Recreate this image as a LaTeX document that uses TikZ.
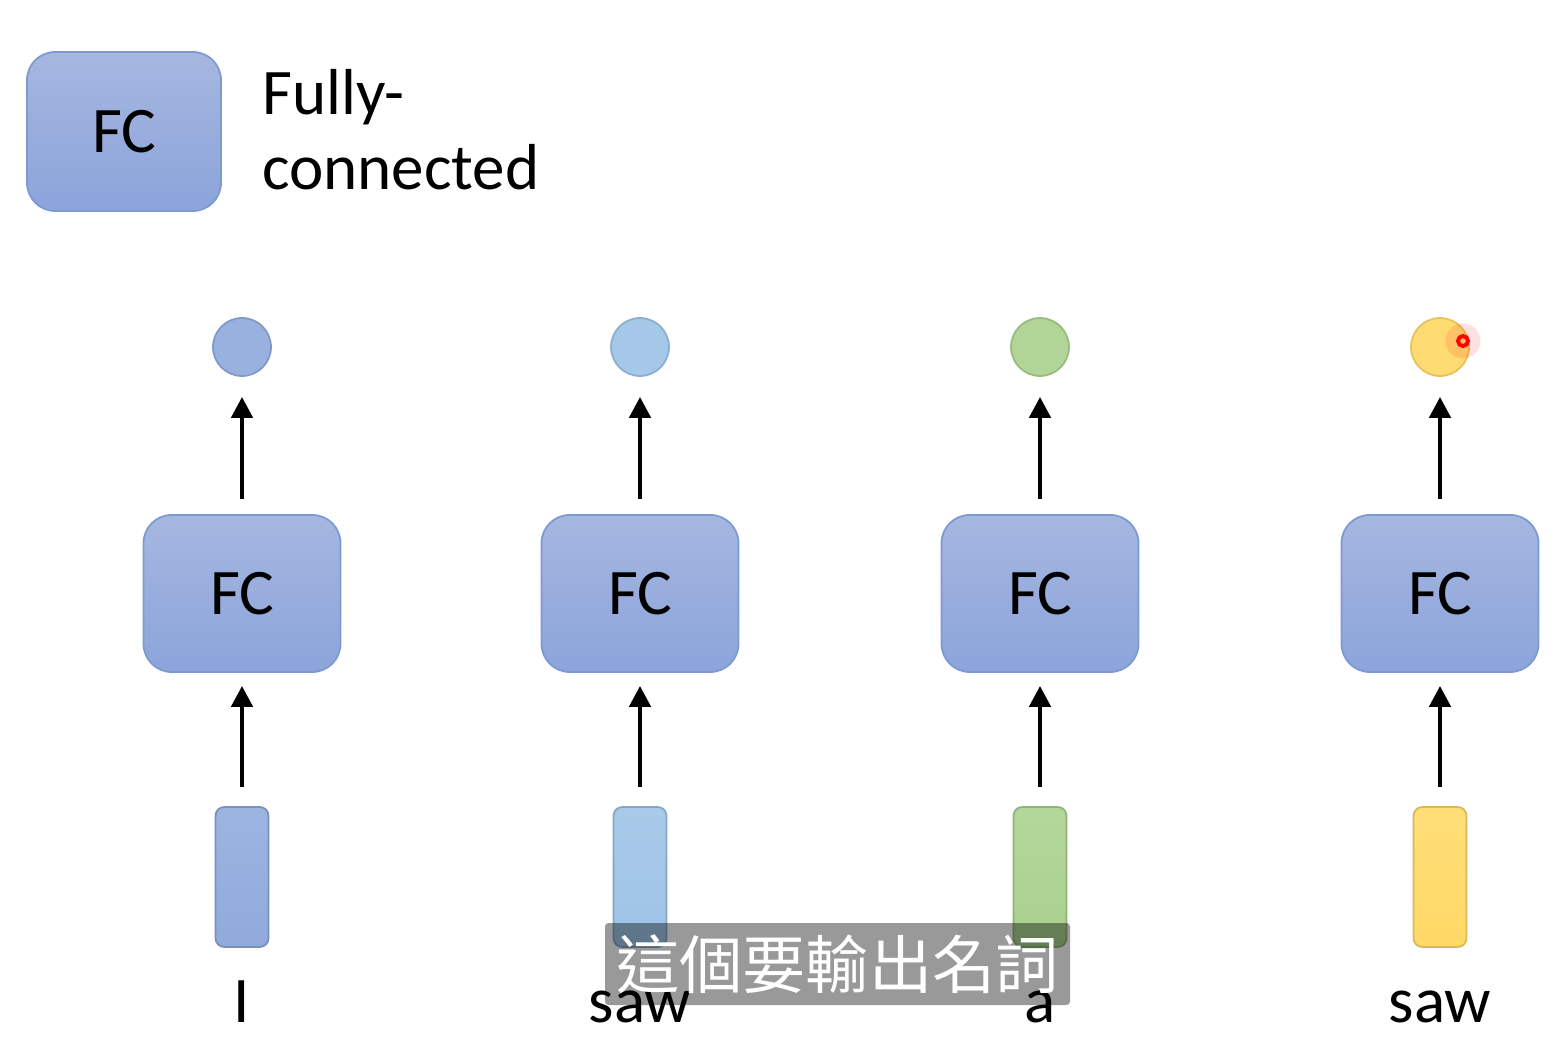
\documentclass[tikz,border=0pt]{standalone}
\usepackage{fontspec}
\setmainfont{Carlito}
\newfontfamily\cjk{Noto Sans CJK TC}
\usetikzlibrary{arrows.meta}
\definecolor{fctop}{HTML}{A6B7E0}
\definecolor{fcbot}{HTML}{8BA4DA}
\definecolor{fcline}{HTML}{7D99D2}
\definecolor{vblue}{HTML}{8FAADC}
\definecolor{vsky}{HTML}{9DC3E6}
\definecolor{vgreen}{HTML}{A9D18E}
\definecolor{vgold}{HTML}{FFD966}

\begin{document}
\begin{tikzpicture}[
    font=\fontsize{37}{43}\selectfont,
    fcbox/.style={
        rectangle, rounded corners=16pt, draw=fcline, line width=1pt,
        top color=fctop, bottom color=fcbot,
        minimum width=3.94cm, minimum height=3.14cm, inner sep=0pt
    },
    vec/.style={
        rectangle, rounded corners=5pt, line width=1pt,
        minimum width=1.06cm, minimum height=2.8cm, inner sep=0pt
    },
    outdot/.style={circle, line width=1pt, minimum size=1.16cm, inner sep=0pt},
    flow/.style={draw=black, line width=2.6pt, -{Triangle[length=12pt,width=12pt]}}
]
\useasboundingbox (0,0) rectangle (31.32,21.04);

% legend
\node[fcbox, minimum width=3.88cm, minimum height=3.18cm] (key) at (2.48,18.41) {FC};
\node[anchor=base west, align=left, inner sep=0pt] (keytext) at (5.24,17.24)
    {Fully-\\connected};

\foreach \i/\x/\col/\word in {
    1/4.84/vblue/I,
    2/12.8/vsky/saw,
    3/20.8/vgreen/a,
    4/28.8/vgold/saw
} {
    \node[vec, draw=\col!85!black, top color=\col!88!white, bottom color=\col] (bar\i) at (\x,3.5) {};
    \node[fcbox] (fc\i) at (\x,9.17) {FC};
    \node[outdot, draw=\col!90!black, fill=\col!92!white] (out\i) at (\x,14.1) {};
    \node[anchor=base, inner sep=0pt] (w\i) at (\x,0.6) {\word};
    \draw[flow, shorten <=0.38cm, shorten >=0.26cm] (bar\i) -- (fc\i);
    \draw[flow, shorten <=0.3cm, shorten >=0.4cm] (fc\i) -- (out\i);
}

% pointer
\fill[red, opacity=0.12] (29.26,14.22) circle (0.35);
\draw[red, line width=2.2pt] (29.26,14.22) circle (0.1);

% subtitle
\node[fill=black, fill opacity=0.4, text opacity=1, text=white, rounded corners=2pt,
      minimum width=9.3cm, minimum height=1.64cm, inner sep=0pt,
      font=\cjk\fontsize{36}{36}\selectfont] (sub) at (16.75,1.76) {這個要輸出名詞};

\end{tikzpicture}
\end{document}
